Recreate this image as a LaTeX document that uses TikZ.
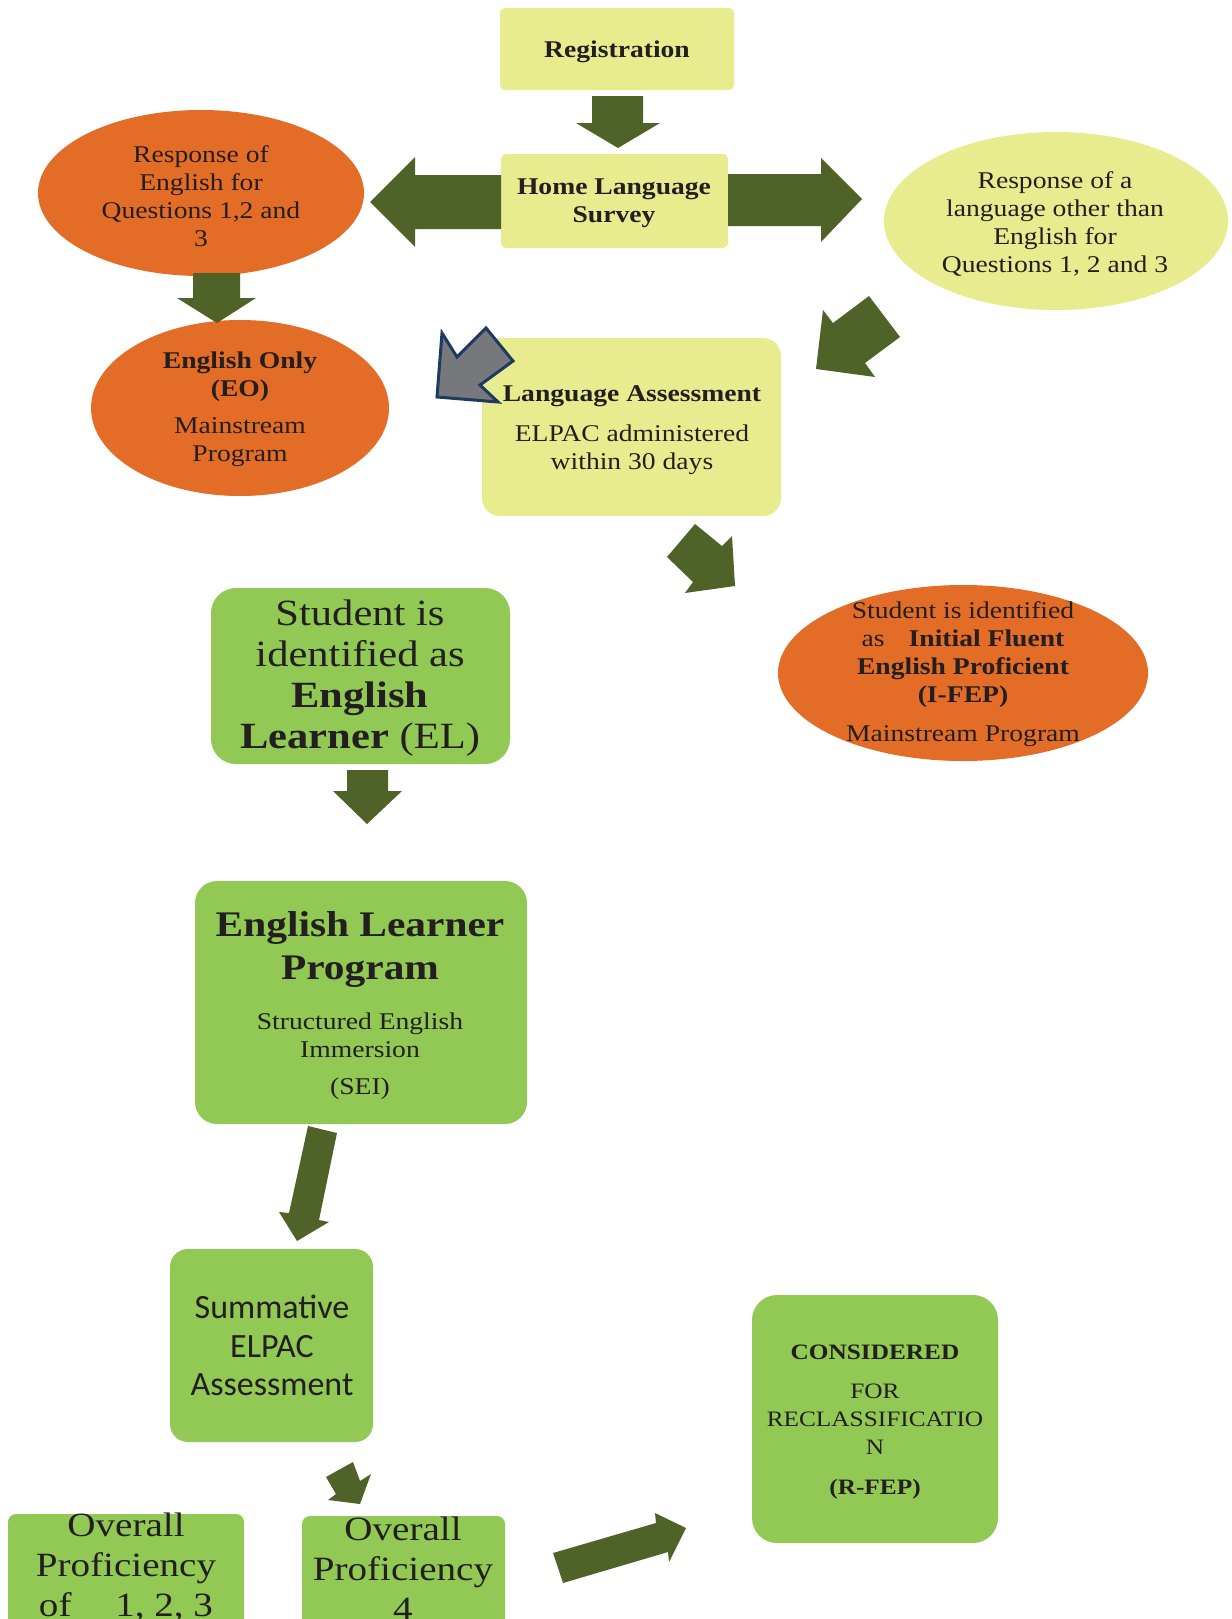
\documentclass[tikz,border=0pt]{standalone}
\usepackage{fontspec}
\setmainfont{Liberation Serif}[FakeStretch=1.15]
\newfontfamily\calfont{Carlito}
\usetikzlibrary{shapes.geometric}
\definecolor{lyellow}{RGB}{232,236,143}
\definecolor{orng}{RGB}{227,108,38}
\definecolor{lgreen}{RGB}{146,200,84}
\definecolor{dgreen}{RGB}{79,98,40}
\definecolor{garrow}{RGB}{118,120,124}
\definecolor{barrow}{RGB}{31,58,96}
\definecolor{tcol}{RGB}{35,31,32}
\begin{document}
\begin{tikzpicture}[x=1pt,y=-1pt,
  shp/.style={draw=none,inner sep=0pt,outer sep=0pt},
  ybox/.style={shp,fill=lyellow,rectangle},
  gbox/.style={shp,fill=lgreen,rectangle},
  oell/.style={shp,fill=orng,ellipse},
  yell/.style={shp,fill=lyellow,ellipse},
  blockarrow/.style={fill=dgreen,draw=none},
  txt/.style={text=tcol,align=center,inner sep=0pt,font=\fontsize{24}{28}\selectfont},
  bigtxt/.style={txt,font=\fontsize{37}{41}\selectfont},
  optxt/.style={txt,font=\fontsize{34}{40}\selectfont},
  caltxt/.style={txt,font=\calfont\fontsize{34}{38.5}\selectfont}]
\useasboundingbox (0,0) rectangle (1231,1619);
\clip (0,0) rectangle (1231,1619);
\fill[white] (0,0) rectangle (1231,1619);

% shapes
\node[ybox,rounded corners=5pt,minimum width=234pt,minimum height=82pt] (reg) at (617,49) {};
\node[ybox,rounded corners=5pt,minimum width=227pt,minimum height=94pt] (hls) at (614.5,201) {};
\node[oell,minimum width=326pt,minimum height=166pt] (lell) at (201,193) {};
\node[yell,minimum width=344pt,minimum height=178pt] (rell) at (1056,221) {};
\node[oell,minimum width=298pt,minimum height=176pt] (eo) at (240,408) {};
\node[ybox,rounded corners=18pt,minimum width=299pt,minimum height=178pt] (la) at (631.5,427) {};
\node[oell,minimum width=370pt,minimum height=176pt] (ifep) at (963,673) {};
\node[gbox,rounded corners=25pt,minimum width=299pt,minimum height=176pt] (el) at (360.5,676) {};
\node[gbox,rounded corners=22pt,minimum width=332pt,minimum height=243pt] (elp) at (361,1002.5) {};
\node[gbox,rounded corners=18pt,minimum width=203pt,minimum height=193pt] (sum) at (271.5,1345.5) {};
\node[gbox,rounded corners=8pt,minimum width=236pt,minimum height=126pt] (op1) at (126,1577) {};
\node[gbox,rounded corners=8pt,minimum width=203pt,minimum height=124pt] (op4) at (403.5,1578) {};
\node[gbox,rounded corners=25pt,minimum width=246pt,minimum height=248pt] (rfep) at (875,1419) {};

% block arrows
\fill[blockarrow] (592,96) -- (643,96) -- (643,123) -- (660,123) -- (618,148) -- (576,123) -- (592,123) -- cycle;
\fill[blockarrow] (hls.west |- 0,175) -- (415,175) -- (415,157) -- (370,202) -- (415,247) -- (415,229) -- (hls.west |- 0,229) -- cycle;
\fill[blockarrow] (hls.east |- 0,174) -- (821,174) -- (821,158) -- (862,199) -- (821,242) -- (821,226) -- (hls.east |- 0,226) -- cycle;
\fill[blockarrow] (193,273) -- (240,273) -- (240,298) -- (256,298) -- (217,323) -- (177,298) -- (193,298) -- cycle;
\fill[blockarrow] (869,296) -- (900,337) -- (865,363) -- (875,377) -- (816,369) -- (823,310) -- (833,323) -- cycle;
\fill[blockarrow] (695,524) -- (722,546) -- (732,536) -- (735,586) -- (685,593) -- (693,582) -- (667,557) -- cycle;
\fill[blockarrow] (347,770) -- (388,770) -- (388,791) -- (402,791) -- (367,824) -- (333,791) -- (347,791) -- cycle;
\fill[blockarrow] (308,1126) -- (337,1133) -- (319,1220) -- (329,1222) -- (297,1241) -- (279,1212) -- (289,1213) -- cycle;
\fill[blockarrow] (326,1477) -- (353,1462) -- (360,1481) -- (371,1474) -- (360,1504) -- (328,1500) -- (336,1494) -- cycle;
\fill[blockarrow] (553,1553) -- (656,1523) -- (655,1513) -- (686,1528) -- (669,1562) -- (668,1552) -- (563,1583) -- cycle;
\filldraw[fill=garrow,draw=barrow,line width=3pt,line join=miter] (437,397) -- (442,333) -- (457,357) -- (486,328) -- (513,361) -- (480,385) -- (498,402) -- cycle;

% texts
\node[txt,font=\bfseries\fontsize{24}{28}\selectfont] (tReg) at (617,52) {Registration};
\node[txt,font=\bfseries\fontsize{24}{28}\selectfont] (tHls) at (614,203.5) {Home Language\\Survey};
\node[txt] (tLell) at (201,196) {Response of\\English for\\Questions 1,2 and\\3};
\node[txt] (tRell) at (1055,224) {Response of a\\language other than\\English for\\Questions 1, 2 and 3};
\node[txt] (tEo) at (240,409.5) {\textbf{English Only}\\\textbf{(EO)}\\[9pt]Mainstream\\Program};
\node[txt] (tLa) at (632,430) {\textbf{Language Assessment}\\[12pt]ELPAC administered\\within 30 days};
\node[txt] (tIfep) at (963,674.5) {Student is identified\\as\quad\textbf{Initial Fluent}\\\textbf{English Proficient}\\\textbf{(I-FEP)}\\[11pt]Mainstream Program};
\node[bigtxt] (tEl) at (360,678) {Student is\\identified as\\\textbf{English}\\\textbf{Learner} (EL)};
\node[txt,font=\bfseries\fontsize{36}{43}\selectfont] (tElpA) at (360,949.5) {English Learner\\Program};
\node[txt] (tElpB) at (360,1035) {Structured English\\Immersion};
\node[txt] (tElpC) at (360,1089) {(SEI)};
\node[caltxt] (tSum) at (272,1345.5) {Summative\\ELPAC\\Assessment};
\node[optxt] (tOp1) at (126,1567) {Overall\\Proficiency\\of\quad\ 1, 2, 3};
\node[optxt] (tOp4) at (403,1569) {Overall\\Proficiency\\4};
\node[txt,font=\fontsize{22}{28}\selectfont] (tRfep) at (875,1422.5) {\textbf{CONSIDERED}\\[11pt]FOR\\RECLASSIFICATIO\\N\\[12pt]\textbf{(R-FEP)}};
\end{tikzpicture}
\end{document}
